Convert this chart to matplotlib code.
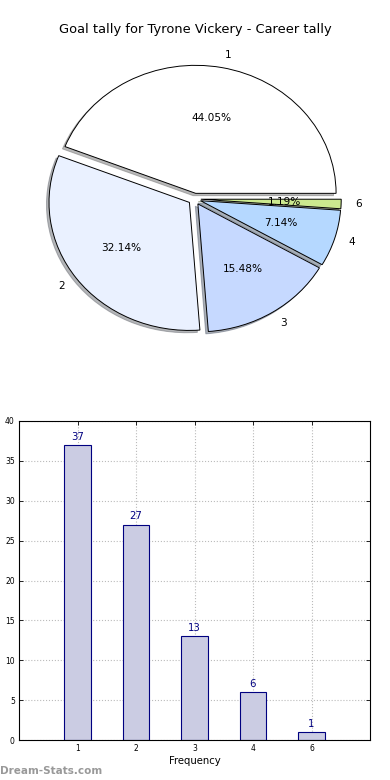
import matplotlib
matplotlib.use("Agg")
import matplotlib.pyplot as plt
import numpy as np

# Goal tally data
categories = ["1", "2", "3", "4", "6"]
counts = [37, 27, 13, 6, 1]
slice_colors = ["#ffffff", "#eaf1ff", "#c6d9ff", "#b5d8ff", "#cbe98f"]
title = "Goal tally for Tyrone Vickery - Career tally"

fig = plt.figure(figsize=(3.9, 7.8), dpi=100)

# Pie chart (top)
ax1 = fig.add_axes([19/390, 1 - 359/780, 351/390, 320/780])
wedges, texts, autotexts = ax1.pie(
    counts, labels=categories, colors=slice_colors, autopct="%.2f%%",
    explode=[0.045] * len(counts),
    shadow={"ox": -0.013, "oy": -0.013, "shade": 0.55}, startangle=0,
    wedgeprops=dict(edgecolor="black", linewidth=0.7),
    textprops=dict(fontsize=7.6))
ax1.set_aspect("auto")
ax1.set_xlim(-1.25, 1.25)
ax1.set_ylim(-1.25, 1.25)
fig.text(0.5, 1 - 30/780, title, ha="center", va="center", fontsize=9.4)

# Bar chart (bottom)
ax2 = fig.add_axes([19/390, 1 - 740/780, 351/390, 319/780])
x = np.arange(len(categories))
ax2.bar(x, counts, width=0.45, color="#cbcce3", edgecolor="navy",
        linewidth=0.8, zorder=2)
for xi, c in zip(x, counts):
    ax2.text(xi, c + 0.4, str(c), ha="center", va="bottom",
             color="navy", fontsize=7.3)
ax2.set_xlim(-1, 5)
ax2.set_ylim(0, 40)
ax2.set_xticks(x)
ax2.set_xticklabels(categories)
ax2.set_yticks(np.arange(0, 41, 5))
ax2.tick_params(labelsize=5.5, direction="in", top=True, right=True,
                length=3, width=0.6, pad=3)
ax2.grid(True, linestyle=":", color="#bbbbbb", linewidth=0.8, zorder=0)
ax2.set_axisbelow(True)
ax2.set_xlabel("Frequency", fontsize=7.3, labelpad=2)

fig.text(0.0, 1 - 771/780, "Dream-Stats.com", ha="left", va="center",
         fontsize=7.5, color="#999999", fontweight="bold")

fig.savefig("out.png", dpi=100)
